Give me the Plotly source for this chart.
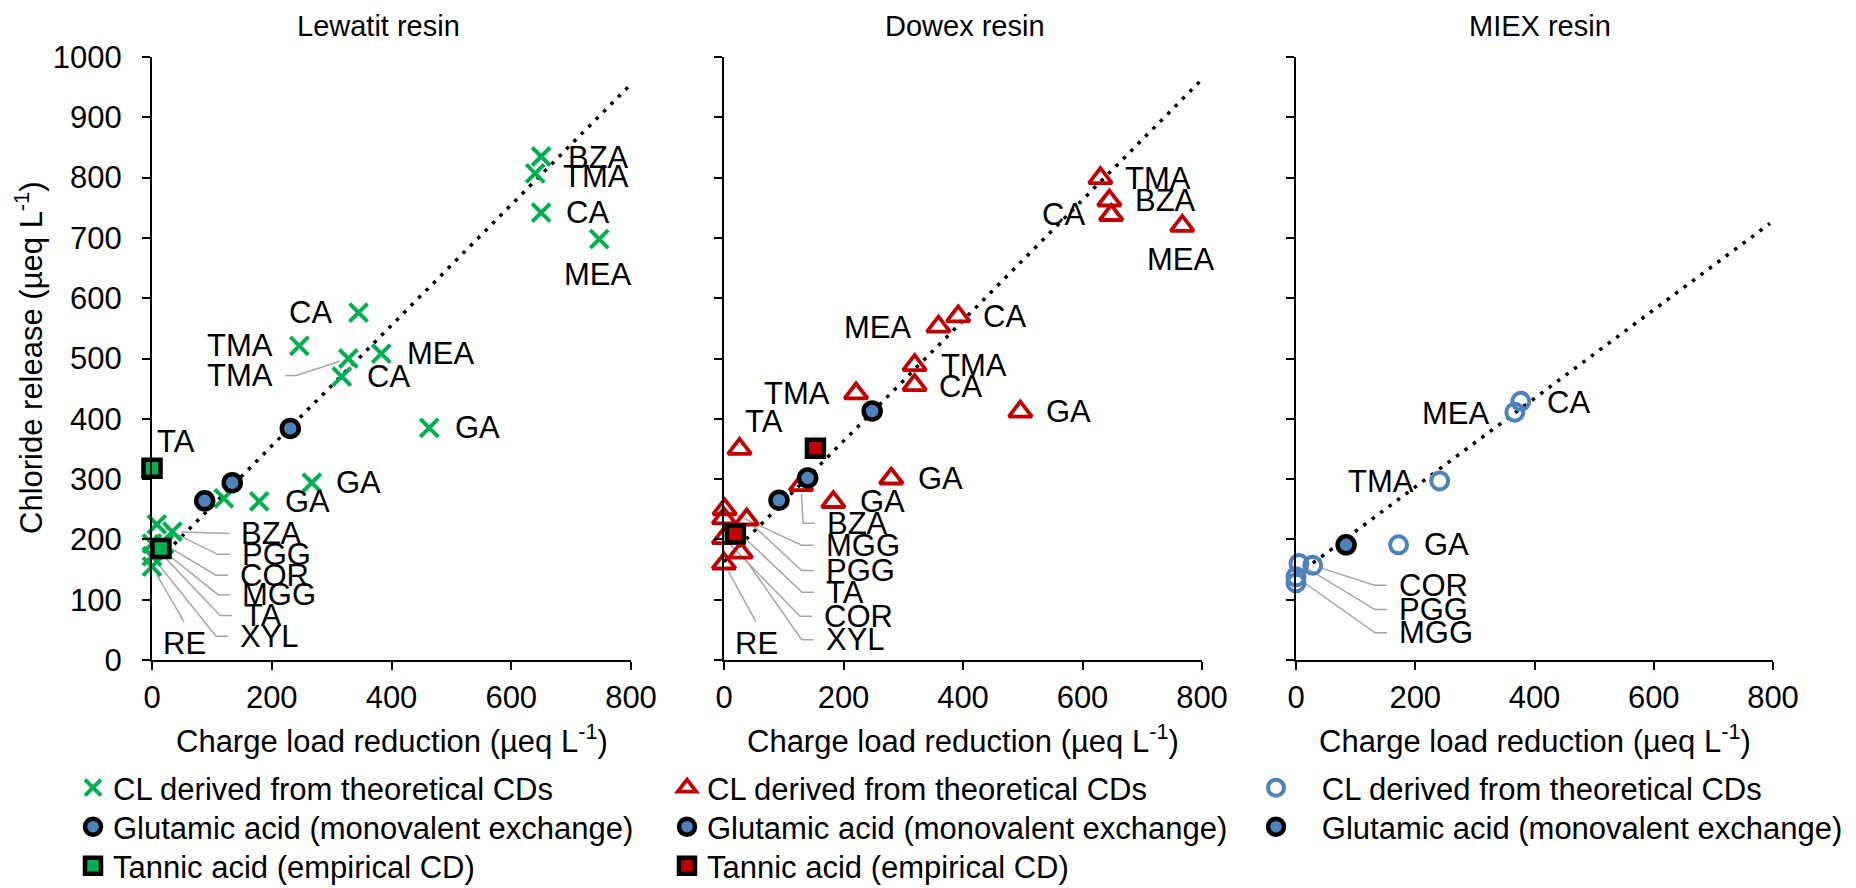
import plotly.graph_objects as go

# ---------------- data ----------------
# Lewatit resin
lew_cl_x = [650, 640, 650, 747, 345, 246, 328, 383, 317, 463, 267, 179, 120, 34, 8, 20, 10, 0, 0, 0]
lew_cl_y = [835, 807, 742, 698, 576, 521, 500, 508, 470, 385, 294, 263, 268, 213, 225, 192, 188, 193, 172, 155]
lew_cl_lab = ["BZA", "TMA", "CA", "MEA", "CA", "TMA", "TMA", "MEA", "CA", "GA", "GA", "GA", "",
              "BZA", "PGG", "COR", "MGG", "TA", "XYL", "RE"]
lew_glu_x = [88, 134, 231]
lew_glu_y = [264, 294, 384]
lew_ta_x = [0, 15]
lew_ta_y = [318, 185]
lew_ta_lab = ["TA", ""]
lew_fit_x = [0, 800]
lew_fit_y = [155, 955]

# Dowex resin
dow_cl_x = [630, 645, 648, 767, 392, 359, 319, 319, 221, 496, 26, 280, 183, 129, 1, 38, 0, 0, 28, 0]
dow_cl_y = [799, 762, 738, 720, 570, 553, 489, 456, 442, 412, 350, 301, 262, 290, 250, 233, 235, 202, 178, 160]
dow_cl_lab = ["TMA", "BZA", "CA", "MEA", "CA", "MEA", "TMA", "CA", "TMA", "GA", "TA", "GA", "GA",
              "BZA", "MGG", "PGG", "TA", "COR", "XYL", "RE"]
dow_glu_x = [92, 140, 248]
dow_glu_y = [265, 302, 413]
dow_ta_x = [153, 19]
dow_ta_y = [351, 209]
dow_ta_lab = ["", ""]
dow_fit_x = [0, 800]
dow_fit_y = [163, 963]

# MIEX resin
miex_cl_x = [377, 367, 241, 172, 28, 5, 0, 0]
miex_cl_y = [429, 411, 297, 191, 157, 160, 138, 128]
miex_cl_lab = ["CA", "MEA", "TMA", "GA", "COR", "PGG", "MGG", ""]
miex_glu_x = [84]
miex_glu_y = [191]
miex_fit_x = [0, 795]
miex_fit_y = [140, 724]

titles = ["Lewatit resin", "Dowex resin", "MIEX resin"]
x_ticks = [0, 200, 400, 600, 800]
y_ticks = [0, 100, 200, 300, 400, 500, 600, 700, 800, 900, 1000]
legend_cl = "CL derived from theoretical CDs"
legend_glu = "Glutamic acid (monovalent exchange)"
legend_ta = "Tannic acid (empirical CD)"

# ---------------- layout / style ----------------
W, H = 1856, 888
FONT = "Liberation Sans, Arial, sans-serif"
FS = 31
X0 = [152, 724, 1296]
X1 = [631, 1202, 1773]
YB, YT = 660, 57
GREEN, RED, BLUE, GREY = "#00B050", "#C00000", "#4F81BD", "#A6A6A6"
TITLE_X = [378, 965, 1540]

# label placement: (mode, dx, dy) in pixels relative to the marker (dy positive = down)
lew_lab_pos = [("c", 57, 1), ("c", 61, 3), ("c", 46, 0), ("c", -1, 35), ("c", -48, 0), ("c", -59, 0),
               ("R", -73, 17), ("c", 60, 0), ("c", 47, 0), ("c", 48, 0), ("c", 47, 0), ("c", 48, 0), None,
               ("L", 67, 2), ("L", 83, 30), ("L", 74, 31), ("L", 82, 48), ("L", 90, 72), ("L", 86, 80),
               ("T", 32, 77)]
lew_ta_pos = [("c", 24, -27), None]
dow_lab_pos = [("c", 58, 0), ("c", 56, 0), ("c", -48, 0), ("c", -1, 34), ("c", 46, 0), ("c", -61, 1),
               ("c", 59, 0), ("c", 46, 1), ("c", -59, 0), ("c", 48, 0), ("c", 24, -27), ("c", 49, 0),
               ("c", 49, -1), ("L", 24, 38), ("L", 99, 36), ("L", 77, 51), ("L", 100, 74), ("L", 98, 78),
               ("L", 83, 87), ("T", 32, 80)]
dow_ta_pos = [None, None]
miex_lab_pos = [("c", 48, 1), ("c", -59, 1), ("c", -59, 1), ("c", 48, 0), ("L", 84, 20), ("L", 98, 46),
                ("L", 101, 56), None]

panels = [
    dict(cl=(lew_cl_x, lew_cl_y, lew_cl_lab, lew_lab_pos), glu=(lew_glu_x, lew_glu_y),
         ta=(lew_ta_x, lew_ta_y, lew_ta_lab, lew_ta_pos), fit=(lew_fit_x, lew_fit_y),
         cl_marker=dict(symbol="x-thin", size=18, color=GREEN, line=dict(color=GREEN, width=4)),
         ta_color=GREEN),
    dict(cl=(dow_cl_x, dow_cl_y, dow_cl_lab, dow_lab_pos), glu=(dow_glu_x, dow_glu_y),
         ta=(dow_ta_x, dow_ta_y, dow_ta_lab, dow_ta_pos), fit=(dow_fit_x, dow_fit_y),
         cl_marker=dict(symbol="triangle-up-open", size=20, color=RED, line=dict(color=RED, width=3.8)),
         ta_color=RED),
    dict(cl=(miex_cl_x, miex_cl_y, miex_cl_lab, miex_lab_pos), glu=(miex_glu_x, miex_glu_y),
         ta=None, fit=(miex_fit_x, miex_fit_y),
         cl_marker=dict(symbol="circle-open", size=17, color=BLUE, line=dict(color=BLUE, width=4)),
         ta_color=None),
]


def to_px(p, x, y):
    return X0[p] + x * (X1[p] - X0[p]) / 800.0, YB - y * (YB - YT) / 1000.0


def to_data(p, X, Y):
    return (X - X0[p]) * 800.0 / (X1[p] - X0[p]), (YB - Y) * 1000.0 / (YB - YT)


fig = go.Figure()
annotations = []
legend_rows = [788, 827, 866]
legend_marker_x = [93, 687, 1276]
legend_count = [0]


def next_legend(p, row):
    legend_count[0] += 1
    n = legend_count[0]
    key = "legend" if n == 1 else "legend%d" % n
    lay = dict(x=(legend_marker_x[p] - 20) / W, xanchor="left",
               y=1 - legend_rows[row] / H, yanchor="middle",
               bgcolor="rgba(0,0,0,0)", borderwidth=0,
               font=dict(family=FONT, size=FS, color="black"), itemsizing="trace")
    fig.update_layout(**{key: lay})
    return key


def add_labels(p, xs, ys, labs, pos, ax_x, ax_y, leader_x, leader_y):
    for x, y, lab, ps in zip(xs, ys, labs, pos):
        if ps is None or not lab:
            continue
        mode, dx, dy = ps
        Px, Py = to_px(p, x, y)
        anchor = {"c": "center", "T": "center", "L": "left", "R": "right"}[mode]
        annotations.append(dict(x=x, y=y, xref=ax_x, yref=ax_y, text=lab, showarrow=False,
                                xanchor=anchor, yanchor="middle", xshift=dx, yshift=-dy,
                                font=dict(family=FONT, size=FS, color="black")))
        lx, ly = Px + dx, Py + dy
        if mode == "L":
            pts = [(lx - 22, ly), (lx - 10, ly)]
        elif mode == "R":
            pts = [(lx + 21, ly), (lx + 10, ly)]
        elif mode == "T":
            pts = [(lx, ly - 22)]
        else:
            continue
        ex, ey = pts[0]
        d = ((ex - Px) ** 2 + (ey - Py) ** 2) ** 0.5
        sx, sy = Px + (ex - Px) * 9 / d, Py + (ey - Py) * 9 / d
        chain = [(sx, sy)] + pts
        for X, Y in chain:
            dxv, dyv = to_data(p, X, Y)
            leader_x.append(dxv)
            leader_y.append(dyv)
        leader_x.append(None)
        leader_y.append(None)


for p, pan in enumerate(panels):
    sfx = "" if p == 0 else str(p + 1)
    ax_x, ax_y = "x" + sfx, "y" + sfx
    # fitted dotted line
    fx, fy = pan["fit"]
    fig.add_trace(go.Scatter(x=fx, y=fy, mode="lines", xaxis=ax_x, yaxis=ax_y, showlegend=False,
                             line=dict(color="black", width=3.5, dash="3.5px,7px"), hoverinfo="skip",
                             cliponaxis=False))
    leader_x, leader_y = [], []
    cx, cy, clab, cpos = pan["cl"]
    add_labels(p, cx, cy, clab, cpos, ax_x, ax_y, leader_x, leader_y)
    if pan["ta"] is not None:
        tx, ty, tlab, tpos = pan["ta"]
        add_labels(p, tx, ty, tlab, tpos, ax_x, ax_y, leader_x, leader_y)
    if leader_x:
        fig.add_trace(go.Scatter(x=leader_x, y=leader_y, mode="lines", xaxis=ax_x, yaxis=ax_y,
                                 showlegend=False, line=dict(color=GREY, width=1.5), hoverinfo="skip",
                                 cliponaxis=False))
    name_cl = legend_cl if p < 2 else "\u00a0\u00a0\u00a0" + legend_cl
    fig.add_trace(go.Scatter(x=cx, y=cy, mode="markers", xaxis=ax_x, yaxis=ax_y, name=name_cl,
                             marker=pan["cl_marker"], cliponaxis=False, legend=next_legend(p, 0)))
    gx, gy = pan["glu"]
    name_glu = legend_glu if p < 2 else "\u00a0\u00a0\u00a0" + legend_glu
    fig.add_trace(go.Scatter(x=gx, y=gy, mode="markers", xaxis=ax_x, yaxis=ax_y, name=name_glu,
                             marker=dict(symbol="circle", size=17, color=BLUE,
                                         line=dict(color="black", width=4.5)),
                             cliponaxis=False, legend=next_legend(p, 1)))
    if pan["ta"] is not None:
        tx, ty, _, _ = pan["ta"]
        fig.add_trace(go.Scatter(x=tx, y=ty, mode="markers", xaxis=ax_x, yaxis=ax_y, name=legend_ta,
                                 marker=dict(symbol="square", size=17, color=pan["ta_color"],
                                             line=dict(color="black", width=4.5)),
                                 cliponaxis=False, legend=next_legend(p, 2)))

    axis_common = dict(showline=True, linecolor="black", linewidth=2, ticks="outside", ticklen=8,
                       tickwidth=2, tickcolor="black", showgrid=False, zeroline=False, automargin=False,
                       tickfont=dict(family=FONT, size=FS, color="black"))
    fig.update_layout(**{
        "xaxis" + sfx: dict(domain=[X0[p] / W, X1[p] / W], range=[0, 800], tickvals=x_ticks,
                            anchor=ax_y, ticklabelstandoff=1, **axis_common),
        "yaxis" + sfx: dict(domain=[1 - YB / H, 1 - YT / H], range=[0, 1000], tickvals=y_ticks,
                            anchor=ax_x, showticklabels=(p == 0), ticklabelstandoff=14, **axis_common),
    })
    annotations.append(dict(x=TITLE_X[p] / W, y=1 - 26 / H, xref="paper", yref="paper", text=titles[p],
                            showarrow=False, xanchor="center", yanchor="middle",
                            font=dict(family=FONT, size=29, color="black")))
    annotations.append(dict(x=(X0[p] + X1[p]) / 2 / W, y=1 - 739 / H, xref="paper", yref="paper",
                            text="Charge load reduction (µeq L<sup>-1</sup>)", showarrow=False,
                            xanchor="center", yanchor="middle",
                            font=dict(family=FONT, size=FS, color="black")))

annotations.append(dict(x=29 / W, y=1 - 358 / H, xref="paper", yref="paper",
                        text="Chloride release (µeq L<sup>-1</sup>)", showarrow=False, textangle=-90,
                        xanchor="center", yanchor="middle", font=dict(family=FONT, size=FS, color="black")))

fig.update_layout(width=W, height=H, margin=dict(l=0, r=0, t=0, b=0, autoexpand=False),
                  paper_bgcolor="white", plot_bgcolor="white", annotations=annotations, showlegend=True,
                  font=dict(family=FONT, size=FS, color="black"))

fig.write_html("out.html", config={"displayModeBar": False})
